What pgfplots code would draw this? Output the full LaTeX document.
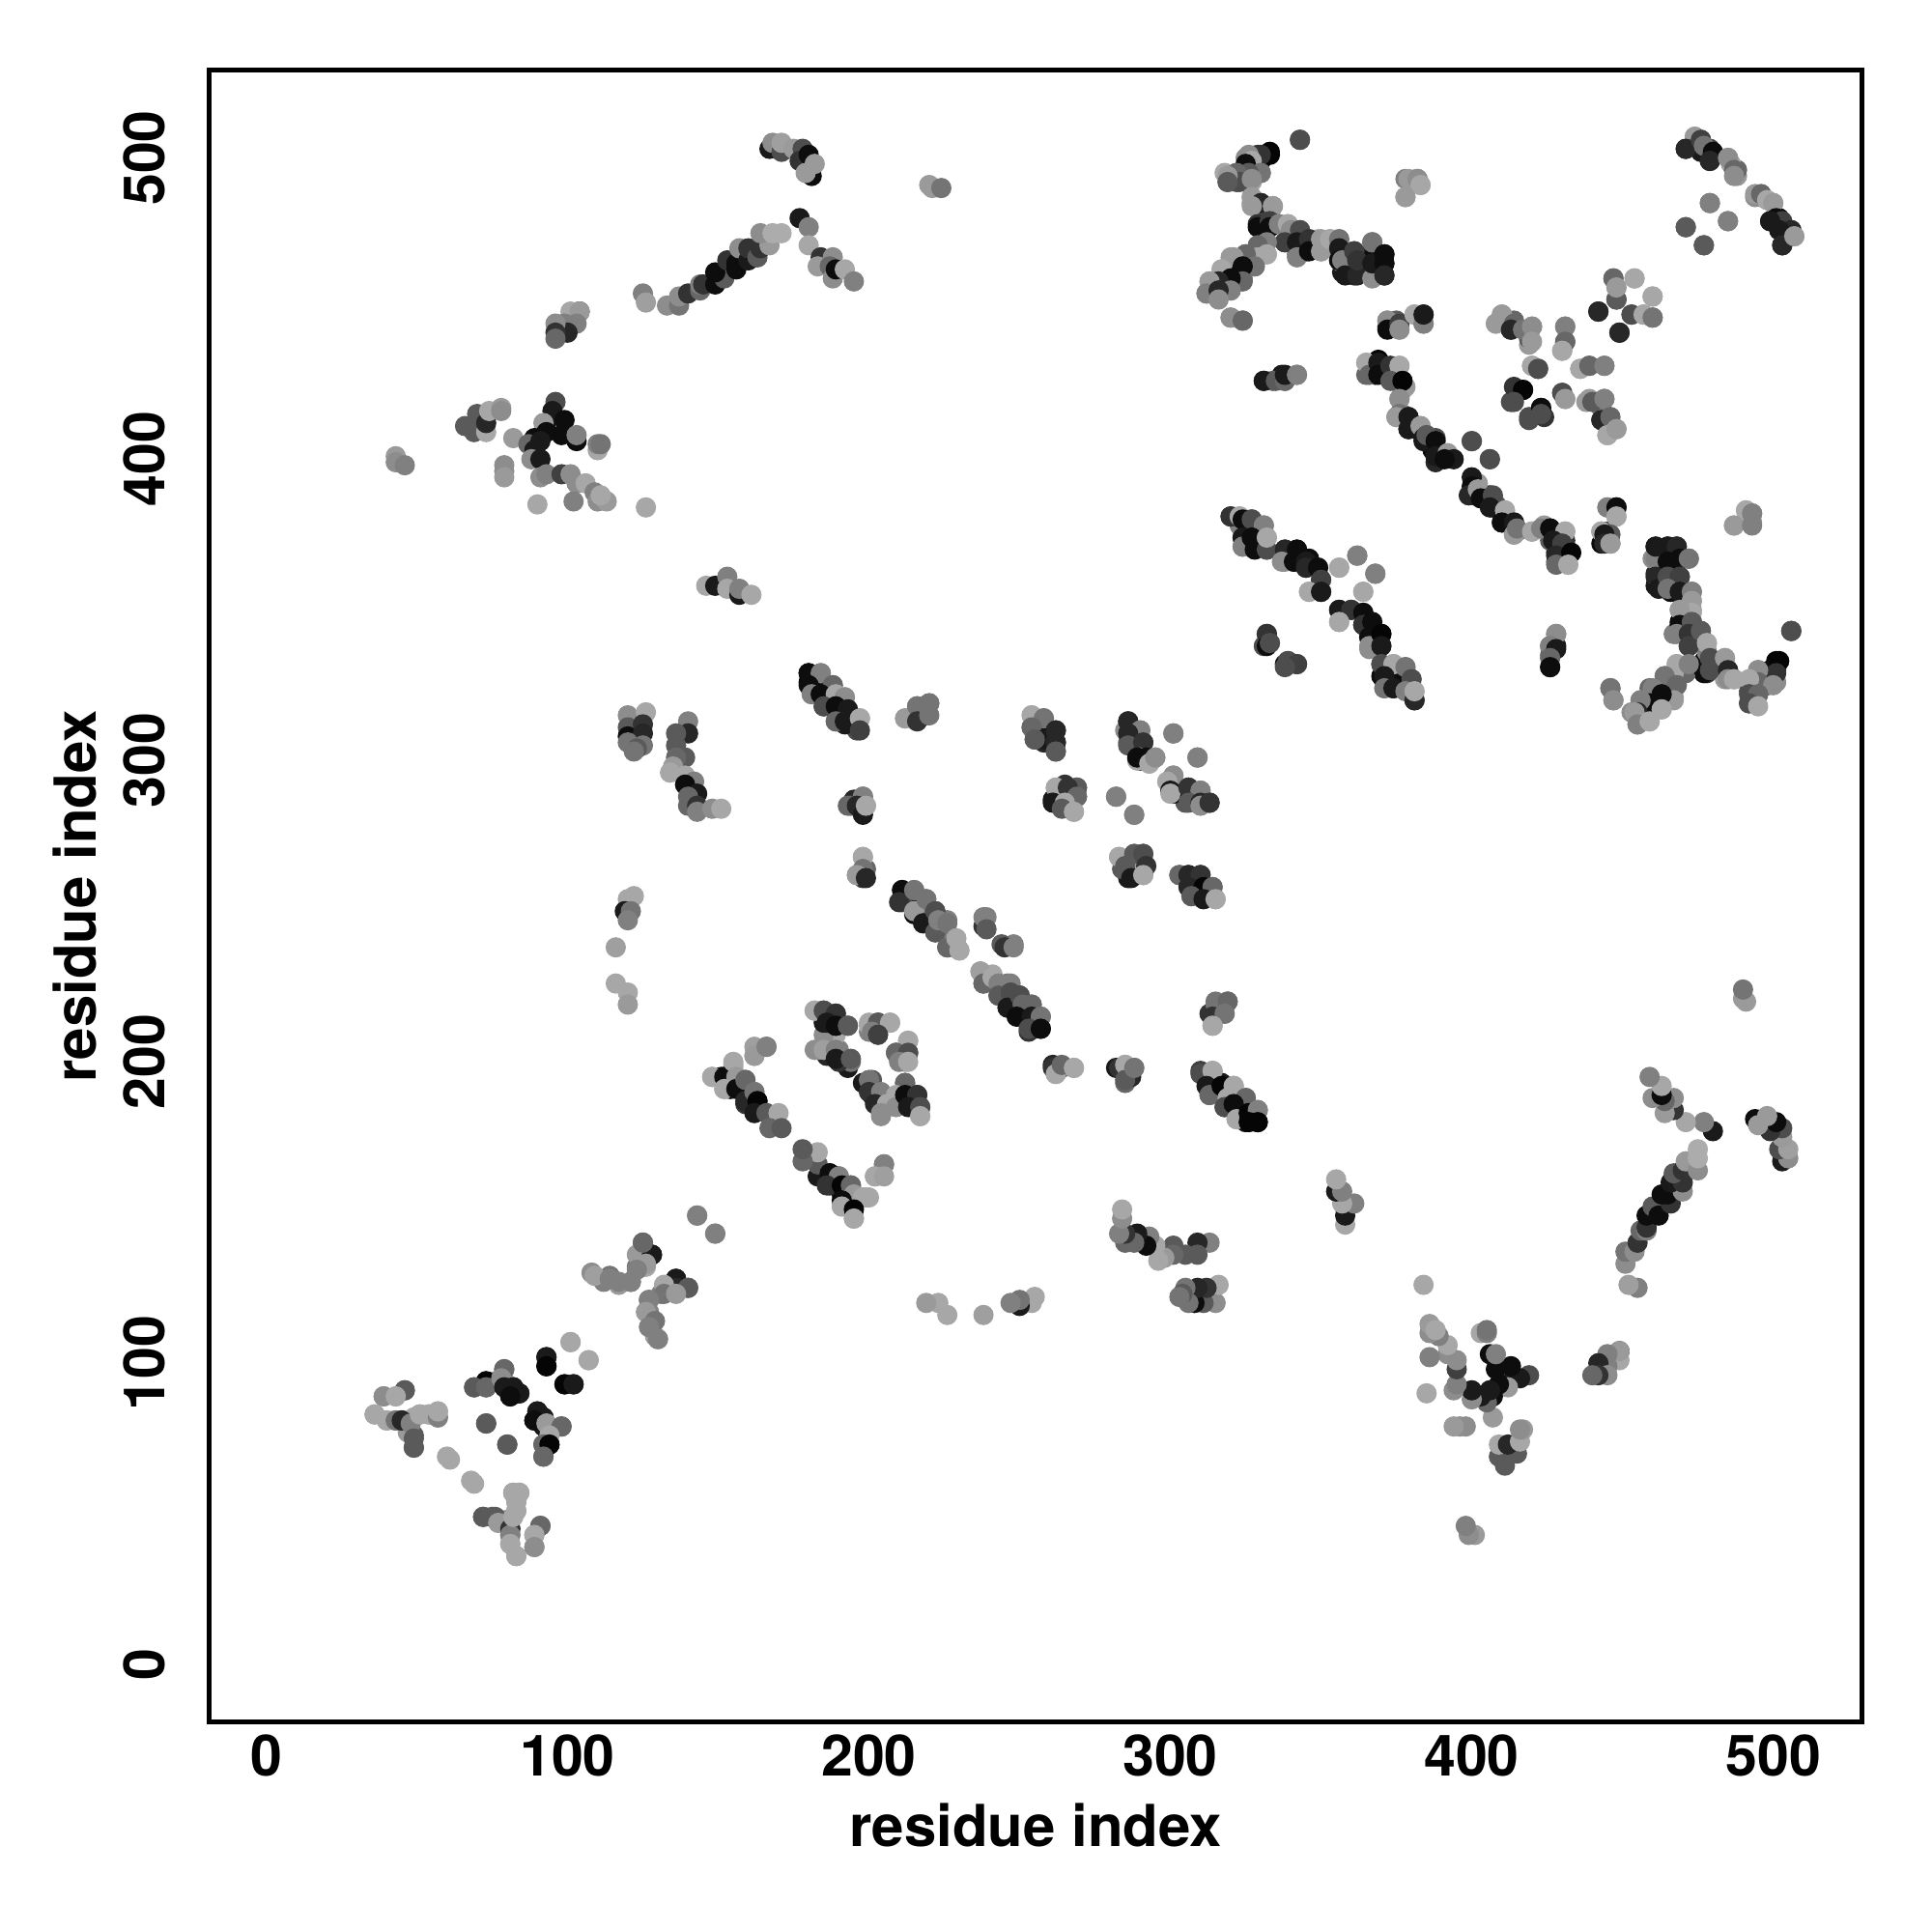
\documentclass[border=0pt]{standalone}
\usepackage{pgfplots}
\usepackage{pgfplotstable}
\usepackage{fontspec}
\setmainfont{TeX Gyre Heros}
\pgfplotsset{compat=1.18}
\pgfplotstableread{
x y g
167 503 .1
168 505 .55
171 502 .3
171 505 .62
175 503 .6
178 503 .3
177 499 .2
180 501 .05
181 494 .05
179 495 .6
182 498 .6
125 455 .5
126 452 .62
133 451 .55
137 451 .45
137 454 .55
140 455 .2
144 456 .4
144 458 .5
145 458 .2
149 458 .05
152 460 .35
149 462 .05
153 466 .2
156 463 .05
156 465 .05
157 470 .55
160 466 .1
160 470 .2
163 467 .35
164 470 .2
167 471 .6
164 475 .55
168 475 .67
171 475 .67
177 480 .1
180 477 .5
180 471 .65
184 467 .2
183 464 .6
188 467 .55
187 464 .4
188 460 .55
189 463 .05
192 463 .65
195 459 .5
104 449 .05
101 449 .65
104 449 .6
103 445 .5
99 445 .5
100 442 .15
96 445 .55
96 442 .2
96 440 .4
43 401 .6
43 399 .55
46 398 .5
66 411 .35
69 409 .35
73 409 .65
70 415 .35
73 412 .15
74 416 .65
78 417 .6
78 416 .55
82 407 .6
96 419 .3
95 416 .1
93 412 .1
99 413 .05
92 412 .6
93 409 .05
98 408 .05
103 406 .05
103 408 .5
89 407 .05
87 405 .4
91 406 .1
89 403 .1
88 400 .55
91 400 .1
110 403 .65
110 405 .5
111 405 .45
79 398 .55
79 396 .55
79 394 .6
91 394 .55
93 395 .5
98 395 .25
101 395 .55
103 392 .55
102 386 .5
106 392 .65
109 389 .5
110 386 .55
113 386 .6
111 388 .65
90 385 .65
126 384 .65
146 358 .65
149 358 .1
153 361 .5
153 357 .65
157 355 .1
157 357 .5
161 355 .65
220 491 .6
221 490 .6
224 490 .45
343 506 .3
333 501 .02
330 501 .2
326 501 .55
327 499 .65
325 498 .05
330 495 .45
326 495 .35
322 495 .4
323 492 .3
319 494 .6
319 492 .35
327 493 .55
327 487 .6
330 485 .15
334 484 .6
327 484 .6
329 478 .2
329 477 .05
333 479 .25
333 477 .05
336 478 .5
339 478 .65
340 476 .55
343 476 .3
338 472 .25
342 472 .1
342 467 .5
346 473 .2
346 469 .05
350 473 .6
350 469 .6
353 473 .65
356 473 .45
356 470 .1
356 466 .05
357 466 .5
361 469 .25
358 461 .1
362 461 .15
362 466 .2
367 472 .45
367 460 .55
367 465 .1
371 468 .05
371 465 .05
371 461 .15
332 472 .5
329 471 .4
329 467 .65
332 468 .65
325 468 .4
321 467 .6
328 464 .45
324 464 .05
317 463 .65
324 459 .4
320 460 .05
316 459 .15
320 456 .5
313 459 .6
312 455 .5
316 456 .15
316 453 .55
320 447 .55
324 446 .4
372 446 .55
372 443 .05
376 445 .25
376 443 .55
381 448 .65
384 445 .5
384 448 .1
379 493 .6
382 493 .55
383 491 .65
378 487 .6
331 426 .1
335 426 .35
338 426 .4
338 428 .1
342 428 .5
365 432 .65
366 428 .4
369 432 .1
369 428 .05
373 431 .2
376 431 .65
373 426 .35
378 424 .6
377 426 .02
376 420 .55
376 415 .45
375 414 .6
379 414 .1
379 410 .1
383 411 .6
384 407 .1
385 408 .35
388 406 .05
388 401 .1
392 402 .6
394 400 .1
391 400 .05
400 406 .3
406 400 .3
410 448 .6
408 445 .6
414 445 .4
413 443 .15
417 443 .45
420 444 .55
420 439 .6
420 431 .65
422 430 .3
414 424 .2
417 423 .02
414 419 .3
423 417 .05
419 413 .3
423 415 .3
474 507 .6
471 503 .15
476 506 .25
477 504 .45
480 502 .05
479 499 .15
485 500 .55
487 496 .4
487 494 .55
494 488 .6
496 488 .4
498 486 .65
500 485 .6
501 480 .05
503 479 .25
499 479 .1
506 476 .15
502 476 .1
503 471 .15
507 474 .6
479 485 .5
485 479 .5
471 477 .35
477 471 .35
454 460 .65
447 460 .4
448 453 .35
448 457 .6
460 454 .65
442 449 .15
453 448 .3
457 448 .65
460 447 .45
449 442 .15
431 444 .5
431 439 .4
430 436 .65
436 430 .65
439 431 .4
444 431 .5
430 422 .3
431 420 .6
438 419 .6
440 419 .35
444 420 .5
443 413 .15
446 414 .4
445 408 .65
448 410 .6
320 381 .2
323 381 .65
324 380 .05
327 380 .3
331 378 .5
324 374 .1
324 371 .5
327 374 .05
328 370 .05
332 370 .3
332 374 .65
338 370 .15
337 366 .55
342 370 .05
341 366 .05
345 366 .1
345 364 .15
349 364 .05
350 360 .25
346 356 .65
350 356 .1
356 364 .65
362 368 .5
368 362 .5
364 356 .65
356 350 .1
360 350 .2
364 349 .05
356 346 .65
364 345 .2
367 346 .05
366 341 .05
366 338 .55
370 342 .02
370 338 .1
370 332 .3
374 332 .65
378 331 .45
371 328 .1
371 324 .45
374 324 .1
380 327 .3
378 323 .5
381 320 .15
381 323 .65
332 342 .2
332 338 .05
333 339 .3
339 333 .3
342 332 .25
338 331 .3
399 388 .15
402 390 .6
403 387 .05
407 388 .3
406 384 .1
411 383 .65
410 379 .05
414 379 .1
414 375 .6
415 377 .45
420 376 .65
423 377 .5
426 377 .05
431 376 .65
427 373 .1
430 372 .25
428 368 .15
433 369 .02
428 365 .4
432 365 .65
445 384 .5
448 384 .05
448 381 .65
443 376 .65
446 375 .35
444 375 .1
444 372 .15
446 372 .6
491 383 .65
487 378 .6
493 382 .5
493 378 .5
461 367 .5
461 371 .1
465 371 .1
468 371 .15
465 366 .05
469 367 .05
472 367 .45
461 361 .15
462 357 .1
465 361 .3
469 361 .25
466 356 .05
465 357 .45
469 356 .1
473 356 .5
473 353 .6
473 349 .65
469 350 .6
469 345 .05
468 342 .5
473 346 .35
472 342 .2
472 338 .25
476 343 .35
478 339 .65
477 330 .05
479 334 .3
479 330 .3
484 334 .6
485 330 .15
485 327 .55
487 327 .65
506 343 .3
499 330 .05
502 333 .02
501 329 .2
495 330 .55
495 326 .4
500 325 .55
492 327 .65
492 322 .3
495 322 .4
492 319 .3
495 318 .65
468 332 .65
472 332 .5
464 328 .45
468 325 .4
460 324 .5
467 320 .6
463 322 .05
459 319 .05
456 320 .5
463 317 .65
455 316 .15
454 316 .6
455 312 .5
459 313 .65
446 324 .45
447 320 .55
428 342 .55
426 338 .5
428 337 .1
426 334 .4
426 331 .05
120 315 .55
126 316 .65
120 311 .35
125 312 .2
120 308 .05
125 309 .15
120 306 .45
125 305 .45
123 304 .35
122 303 .45
140 313 .5
140 309 .15
136 309 .35
136 305 .35
139 301 .35
136 301 .4
135 298 .6
134 296 .65
139 295 .65
142 293 .5
139 292 .05
143 289 .1
140 288 .4
140 285 .4
143 285 .2
143 283 .5
148 284 .55
151 284 .65
180 329 .05
184 329 .5
180 325 .05
181 322 .5
188 325 .4
184 322 .05
189 322 .65
192 321 .55
185 318 .3
189 318 .05
193 317 .1
189 313 .4
192 313 .1
197 314 .65
197 310 .25
212 314 .6
216 318 .45
220 319 .45
216 313 .2
220 315 .45
198 288 .5
193 285 .4
196 285 .15
198 282 .1
199 285 .65
198 268 .65
198 264 .45
196 262 .6
199 261 .15
122 255 .65
120 254 .65
119 250 .1
121 250 .45
120 247 .5
116 238 .62
116 226 .65
120 223 .65
120 219 .6
143 149 .5
149 143 .5
128 136 .1
125 140 .4
126 133 .6
123 131 .5
108 130 .55
109 129 .62
114 128 .5
117 127 .5
121 127 .5
136 128 .1
136 125 .15
140 125 .35
132 126 .65
132 123 .45
136 123 .6
127 121 .5
126 117 .6
129 114 .45
127 112 .5
130 108 .5
101 107 .65
107 101 .65
93 102 .1
93 99 .02
99 93 .02
102 93 .1
79 98 .4
73 94 .02
69 92 .35
73 92 .4
78 95 .55
79 92 .1
82 92 .1
84 90 .1
81 89 .05
46 91 .35
39 89 .55
43 89 .65
36 83 .65
40 81 .65
43 81 .45
45 81 .15
48 80 .5
49 75 .35
49 72 .35
51 83 .65
54 83 .65
57 82 .5
57 84 .65
61 68 .65
69 60 .65
73 80 .35
80 73 .35
90 84 .1
92 82 .1
89 81 .05
93 80 .6
98 79 .4
94 76 .65
92 73 .4
94 73 .02
92 69 .4
72 49 .35
76 49 .35
77 47 .6
81 45 .2
81 43 .5
81 40 .65
83 36 .65
82 57 .65
84 57 .65
83 54 .65
83 51 .65
82 49 .65
91 46 .4
89 43 .65
89 39 .55
211 257 .05
210 253 .2
215 257 .45
215 250 .6
218 246 .1
219 254 .45
222 243 .35
222 250 .3
223 247 .5
226 238 .4
226 246 .45
229 241 .65
230 237 .65
239 248 .5
239 244 .35
245 238 .2
248 238 .5
237 230 .62
238 226 .4
241 228 .65
243 226 .5
247 226 .5
243 222 .35
247 223 .3
246 218 .1
250 222 .3
251 219 .4
254 219 .4
249 215 .05
254 215 .1
257 215 .45
253 211 .3
257 211 .05
261 198 .2
262 196 .65
264 199 .4
268 198 .65
283 198 .2
287 195 .15
285 199 .65
285 194 .35
288 198 .45
315 219 .45
319 220 .4
314 215 .2
318 216 .45
314 212 .65
310 196 .3
314 197 .65
312 192 .1
313 189 .4
317 192 .02
321 192 .65
319 188 .65
318 185 .3
325 188 .4
321 186 .05
322 181 .65
326 183 .02
329 184 .5
326 180 .02
329 180 .02
182 217 .65
185 217 .3
189 216 .2
186 213 .1
189 212 .05
193 212 .35
200 212 .65
203 213 .35
207 213 .65
201 210 .5
203 209 .25
213 207 .65
209 203 .4
213 203 .3
210 200 .5
213 200 .65
182 204 .55
185 204 .62
189 204 .5
189 201 .1
194 201 .35
198 193 .1
200 194 .45
200 190 .2
204 190 .5
202 186 .15
206 186 .65
204 183 .55
212 193 .4
209 189 .65
209 185 .55
212 189 .05
216 189 .2
213 185 .1
217 185 .3
217 182 .65
205 166 .5
202 162 .65
205 162 .62
187 163 .05
190 162 .5
186 159 .2
191 159 .02
194 159 .4
195 156 .6
199 155 .65
198 155 .65
191 154 .05
191 152 .65
195 151 .02
195 148 .65
148 195 .65
152 195 .05
155 200 .65
156 195 .6
152 191 .65
156 191 .05
159 194 .4
159 187 .15
162 190 .45
163 187 .02
162 183 .1
166 183 .35
170 183 .65
167 178 .4
171 178 .35
162 202 .6
166 205 .5
254 315 .65
258 314 .45
254 311 .4
258 307 .1
255 307 .35
262 310 .15
262 306 .15
262 303 .35
286 313 .15
290 310 .5
286 309 .15
286 305 .35
291 306 .2
290 301 .6
289 301 .05
292 301 .05
293 299 .65
295 301 .55
301 309 .5
309 301 .5
301 295 .55
299 293 .65
300 290 .1
300 289 .65
306 291 .2
310 290 .5
306 286 .35
310 286 .15
310 285 .55
313 286 .2
262 291 .65
269 291 .35
266 291 .2
269 288 .4
261 286 .1
265 286 .65
264 284 .35
268 283 .65
282 288 .5
288 282 .5
283 268 .65
288 269 .35
291 269 .3
285 265 .35
292 265 .2
287 261 .1
291 262 .65
303 262 .4
306 262 .15
310 262 .2
306 258 .15
311 258 .02
314 258 .4
307 255 .35
311 254 .1
315 254 .65
}\points
\begin{document}
\begin{tikzpicture}
\begin{axis}[
  at={(0,0)}, anchor=south west,
  scale only axis, width=171mm, height=171mm,
  xmin=-18.75, xmax=529.3, ymin=-19.2, ymax=529,
  xtick={0,100,...,500}, ytick={0,100,...,500},
  axis line style={line width=0.5mm},
  tick style={draw=none}, major tick length=0pt,
  /pgf/number format/assume math mode=true,
  tick label style={font=\fontsize{16.8}{18}\selectfont\bfseries},
  label style={font=\fontsize{17.05}{18}\selectfont\bfseries},
  xticklabel style={anchor=base, yshift=-5.6mm},
  yticklabel style={xshift=-4.6mm, rotate=90, anchor=base},
  xlabel={residue index}, ylabel={residue index},
  xlabel style={at={(axis description cs:0.5,0)}, anchor=base, yshift=-12.8mm},
  ylabel style={at={(axis description cs:0,0.5)}, rotate=0, anchor=base, yshift=11.75mm},
  colormap={bw}{gray(0cm)=(0); gray(1cm)=(1)},
  point meta min=0, point meta max=1,
  scatter/use mapped color={draw=mapped color, fill=mapped color},
  every mark/.append style={line width=0.05pt},
]
\addplot[scatter, only marks, mark=*, mark size=0.98mm, scatter src=explicit]
  table[x=y, y=x, meta=g]{\points};
\addplot[scatter, only marks, mark=*, mark size=0.98mm, scatter src=explicit]
  table[x=x, y=y, meta=g]{\points};
\end{axis}
\useasboundingbox (-21.7mm,-21.7mm) rectangle (178.3mm,178.3mm);
\end{tikzpicture}
\end{document}
